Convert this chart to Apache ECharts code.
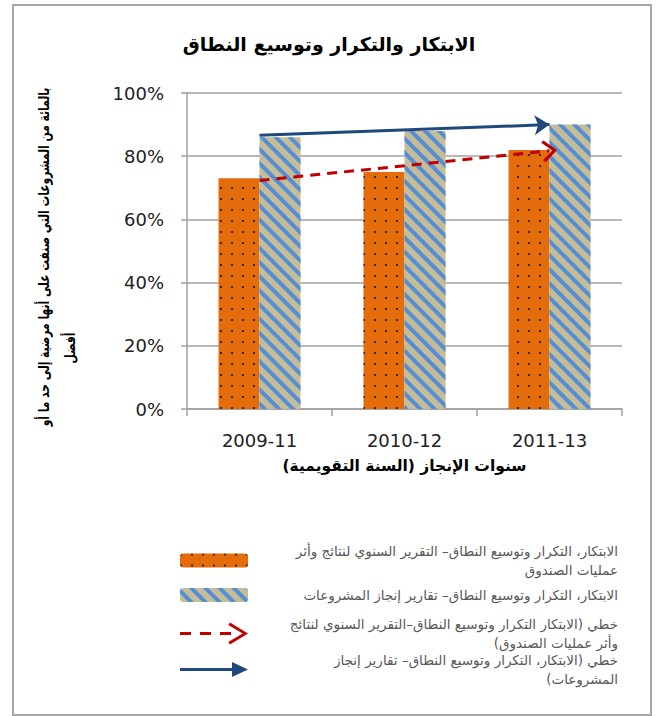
<!DOCTYPE html>
<html>
<head>
<meta charset="utf-8">
<script src="https://cdn.jsdelivr.net/npm/echarts@6/dist/echarts.min.js"></script>
<style>
html,body{margin:0;padding:0;background:#fff;}
#chart{width:658px;height:716px;}
</style>
</head>
<body>
<div id="chart"></div>
<script>
// ---- data ----
const categories = ['2009-11', '2010-12', '2011-13'];
const annualReportValues = [73, 75, 82];
const pcrValues = [86, 88, 90];
const trendAnnual = [72.3, 81.7];   // trend line values at first and last category
const trendPcr = [86.6, 90.0];
const yTickMin = 0, yTickMax = 100, yTickStep = 20;

const titleText = 'الابتكار والتكرار وتوسيع النطاق';
const xAxisTitle = 'سنوات الإنجاز (السنة التقويمية)';
const yAxisTitleLines = ['بالمائة من المشروعات التي صنفت على أنها مرضية إلى حد ما أو', 'أفضل'];

const seriesNames = [
  'الابتكار، التكرار وتوسيع النطاق– التقرير السنوي لنتائج وأثر عمليات الصندوق',
  'الابتكار، التكرار وتوسيع النطاق– تقارير إنجاز المشروعات',
  'خطي (الابتكار التكرار وتوسيع النطاق–التقرير السنوي لنتائج وأثر عمليات الصندوق)',
  'خطي (الابتكار، التكرار وتوسيع النطاق– تقارير إنجاز المشروعات)'
];
const legendLines = [
  ['الابتكار، التكرار وتوسيع النطاق– التقرير السنوي لنتائج وأثر', 'عمليات الصندوق'],
  ['الابتكار، التكرار وتوسيع النطاق– تقارير إنجاز المشروعات'],
  ['خطي (الابتكار التكرار وتوسيع النطاق–التقرير السنوي لنتائج', 'وأثر عمليات الصندوق)'],
  ['خطي (الابتكار، التكرار وتوسيع النطاق– تقارير إنجاز', 'المشروعات)']
];

// ---- styling ----
const RLM = '\u200F';
const rtl = s => RLM + s + RLM;
const FONT = '"DejaVu Sans", sans-serif';
const ORANGE = '#E46C0A', TAN = '#C4BD97', STRIPE = '#558ED5';
const RED = '#C00000', BLUE = '#1F497D';
const GRID = '#A0A0A0';

const chevronUp = 'path://M10,0 L20,12 L18,14.5 L10,4.5 L2,14.5 L0,12 Z';
const redLegendIcon = 'path://M0,9.5 L11,9.5 L11,12.5 L0,12.5 Z M20,9.5 L31,9.5 L31,12.5 L20,12.5 Z M40,9.5 L51,9.5 L51,12.5 L40,12.5 Z M50,0 L68,11 L50,22 L48.3,19.6 L62.6,11 L48.3,2.4 Z';
const blueLegendIcon = 'path://M0,6 L54,6 L54,9 L0,9 Z M52,0 L68,7.5 L52,15 Z';

// horizontal compression of the vertical axis title so it spans the same length as the reference
const yTitleFont = 'bold 15px ' + FONT;
const measureCtx = document.createElement('canvas').getContext('2d');
measureCtx.font = yTitleFont;
const yTitleNatural = measureCtx.measureText(rtl(yAxisTitleLines[0])).width || 339;
const yTitleScale = Math.min(1, 339 / yTitleNatural);

const chart = echarts.init(document.getElementById('chart'), null, {renderer: 'svg'});

const legendText = idx => ({
  formatter: () => legendLines[idx].map(l => '{a|' + rtl(l) + '}').join('\n'),
  textStyle: {
    rich: {a: {width: 365, align: 'right', fontFamily: FONT, fontSize: 13.5, lineHeight: 19, color: '#595959'}}
  }
});

function makeLegend(idx, top, h, extra) {
  return Object.assign({
    orient: 'vertical', left: 180, top: top, itemWidth: 68, itemHeight: h,
    selectedMode: false, padding: 0,
    data: [Object.assign({name: seriesNames[idx]}, extra || {})]
  }, legendText(idx));
}

const option = {
  animation: false,
  title: {
    text: rtl(titleText), left: 'center', top: 29,
    textStyle: {fontFamily: FONT, fontSize: 19, fontWeight: 'bold', color: '#000'}
  },
  grid: {left: 187, right: 36, top: 93, bottom: 307, containLabel: false},
  xAxis: {
    type: 'category', data: categories,
    name: rtl(xAxisTitle), nameLocation: 'middle', nameGap: 49,
    nameTextStyle: {fontFamily: FONT, fontSize: 15.5, fontWeight: 'bold', color: '#000'},
    axisLine: {lineStyle: {color: GRID, width: 1.5}},
    axisTick: {show: true, length: 7, lineStyle: {color: GRID, width: 1.5}},
    axisLabel: {fontFamily: FONT, fontSize: 18, color: '#222', margin: 22}
  },
  yAxis: {
    type: 'value', min: yTickMin, max: yTickMax, interval: yTickStep,
    axisLine: {show: true, lineStyle: {color: GRID, width: 1.5}},
    axisTick: {show: true, length: 6, lineStyle: {color: GRID, width: 1.5}},
    splitLine: {lineStyle: {color: GRID, width: 1.5}},
    axisLabel: {fontFamily: FONT, fontSize: 18, color: '#222', margin: 23, formatter: '{value}%'}
  },
  legend: [
    makeLegend(0, 544, 14),
    makeLegend(1, 588, 14),
    makeLegend(2, 617, 22, {icon: redLegendIcon, itemStyle: {color: RED, borderWidth: 0}}),
    makeLegend(3, 653, 15, {icon: blueLegendIcon, itemStyle: {color: BLUE, borderWidth: 0}})
  ],
  series: [
    {
      name: seriesNames[0], type: 'bar', data: annualReportValues,
      barWidth: 41, barGap: '0%',
      itemStyle: {
        color: ORANGE,
        decal: {symbol: 'circle', symbolSize: 1, dashArrayX: [2, 9], dashArrayY: [2, 9], color: '#1a1a1a', rotation: 0}
      }
    },
    {
      name: seriesNames[1], type: 'bar', data: pcrValues,
      barWidth: 41,
      itemStyle: {
        color: TAN,
        decal: {symbol: 'rect', symbolSize: 1, dashArrayX: [1, 0], dashArrayY: [4, 6], color: STRIPE, rotation: Math.PI / 4}
      }
    },
    {
      name: seriesNames[2], type: 'line', data: [], color: RED,
      lineStyle: {color: RED, width: 3, type: [10, 7]},
      markLine: {
        silent: true, symbol: ['none', chevronUp], symbolSize: [22, 15],
        label: {show: false},
        lineStyle: {color: RED, width: 3, type: [10, 7]},
        data: [[{coord: [categories[0], trendAnnual[0]]}, {coord: [categories[2], trendAnnual[1]]}]]
      }
    },
    {
      name: seriesNames[3], type: 'line', data: [], color: BLUE,
      lineStyle: {color: BLUE, width: 3},
      markLine: {
        silent: true, symbol: ['none', 'arrow'], symbolSize: [15, 15],
        label: {show: false},
        lineStyle: {color: BLUE, width: 3, type: 'solid'},
        data: [[{coord: [categories[0], trendPcr[0]]}, {coord: [categories[2], trendPcr[1]]}]]
      }
    }
  ],
  graphic: [
    {type: 'rect', silent: true, z: -10, shape: {x: 13, y: 5, width: 638, height: 710},
     style: {fill: 'none', stroke: '#A6A6A6', lineWidth: 2}},
    {type: 'text', x: 44, y: 257, rotation: Math.PI / 2, scaleX: yTitleScale, silent: true,
     style: {text: rtl(yAxisTitleLines[0]), font: yTitleFont, fill: '#000',
             align: 'center', verticalAlign: 'middle', textAlign: 'center', textVerticalAlign: 'middle'}},
    {type: 'text', x: 70, y: 348, rotation: Math.PI / 2, scaleX: yTitleScale, silent: true,
     style: {text: rtl(yAxisTitleLines[1]), font: yTitleFont, fill: '#000',
             align: 'center', verticalAlign: 'middle', textAlign: 'center', textVerticalAlign: 'middle'}}
  ]
};
chart.setOption(option);
</script>
</body>
</html>
